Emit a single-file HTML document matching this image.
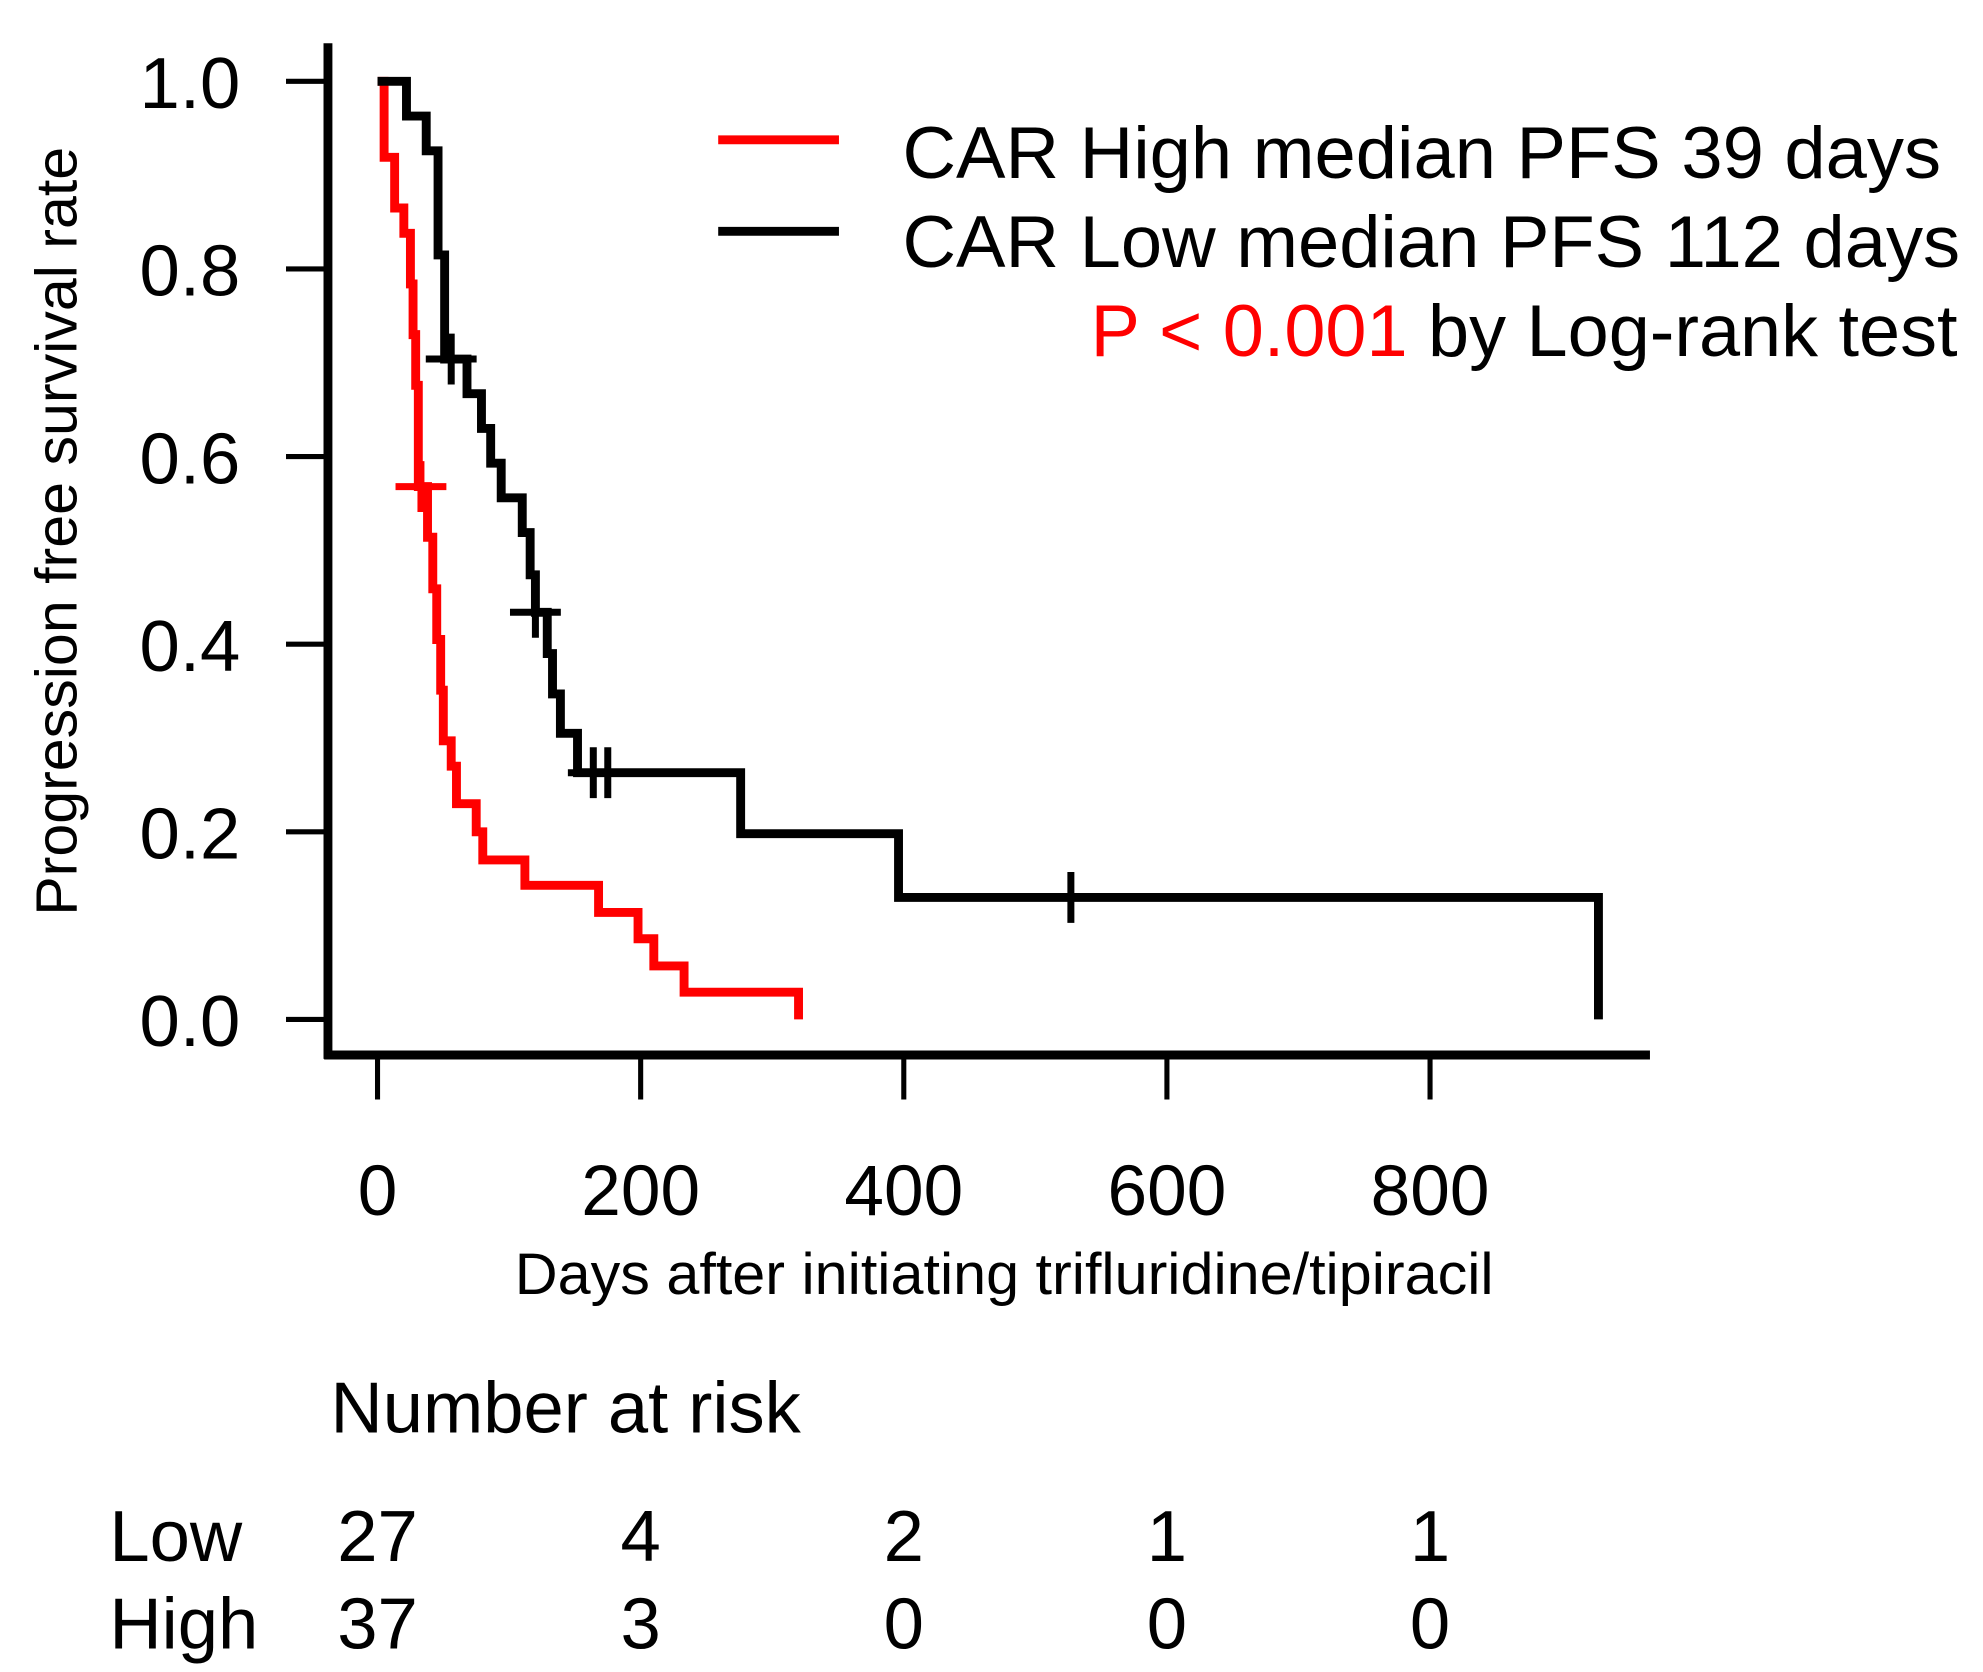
<!DOCTYPE html>
<html><head><meta charset="utf-8"><style>
html,body{margin:0;padding:0;background:#fff;}
svg{display:block;font-family:"Liberation Sans",Arial,sans-serif;}
</style></head><body>
<svg id="chart" width="1983" height="1672" viewBox="0 0 1560 1315.4" preserveAspectRatio="none" xmlns="http://www.w3.org/2000/svg">
<g id="axes"></g>
<g id="series"></g>
<g>
<line x1="565" y1="110" x2="660" y2="110" stroke="#ff0000" stroke-width="7"/>
<line x1="565" y1="182" x2="660" y2="182" stroke="#000" stroke-width="7"/>
<text x="710" y="140" font-size="58" textLength="817" lengthAdjust="spacingAndGlyphs">CAR High median PFS 39 days</text>
<text x="710" y="210" font-size="58" textLength="832" lengthAdjust="spacingAndGlyphs">CAR Low median PFS 112 days</text>
<text x="858" y="280" font-size="58" textLength="682" lengthAdjust="spacingAndGlyphs"><tspan fill="#ff0000">P &lt; 0.001</tspan> by Log-rank test</text>
</g>
<text transform="translate(60,418) rotate(-90)" font-size="46" text-anchor="middle" textLength="605" lengthAdjust="spacingAndGlyphs">Progression free survival rate</text>
<text x="790" y="1018" font-size="46" text-anchor="middle" textLength="770" lengthAdjust="spacingAndGlyphs">Days after initiating trifluridine/tipiracil</text>
<text x="260" y="1127" font-size="57" textLength="370" lengthAdjust="spacingAndGlyphs">Number at risk</text>
<text x="86" y="1228" font-size="57">Low</text>
<text x="86" y="1297" font-size="57">High</text>
<g id="risk"></g>
</svg>
<script>
const xTicks = [0, 200, 400, 600, 800];
const yTicks = [0.0, 0.2, 0.4, 0.6, 0.8, 1.0];
const highTimes = [0,5,13,20,25,27,29,31,38,42,45,48,50,56,60,75,80,112,168,198,210,233,320];
const highSurv = [1.0,0.919,0.865,0.838,0.784,0.73,0.676,0.568,0.514,0.459,0.405,0.351,0.297,0.27,0.23,0.2,0.17,0.143,0.114,0.086,0.057,0.029,0.0];
const highCensor = [33];
const lowTimes = [0,22,37,46,51,68,79,86,94,110,116,120,129,133,139,152,276,396,928];
const lowSurv = [1.0,0.963,0.926,0.815,0.704,0.667,0.63,0.593,0.556,0.519,0.474,0.434,0.39,0.347,0.305,0.263,0.198,0.13,0.0];
const lowCensor = [56, 120, 164, 175, 527];
const riskLow = [27, 4, 2, 1, 1];
const riskHigh = [37, 3, 0, 0, 0];

const NS = "http://www.w3.org/2000/svg";
const X = t => 297 + (1125 - 297) * t / 800;
const Y = s => 802 - (802 - 64) * s;
function mk(tag, attrs, parent, text) {
  const e = document.createElementNS(NS, tag);
  for (const k in attrs) e.setAttribute(k, attrs[k]);
  if (text !== undefined) e.textContent = text;
  parent.appendChild(e);
  return e;
}
const axes = document.getElementById('axes');
let e = mk('line', {x1:258, y1:34, x2:258, y2:833, stroke:'#000', 'stroke-width':7}, axes);


e = mk('line', {x1:255, y1:830, x2:1298, y2:830, stroke:'#000', 'stroke-width':7}, axes);


yTicks.forEach(v => {
  const t = mk('line', {x1:225, y1:Y(v), x2:258, y2:Y(v), stroke:'#000', 'stroke-width':4}, axes);
  
  
  const l = mk('text', {x:189, y:Y(v)+21, 'font-size':57, 'text-anchor':'end'}, axes, v.toFixed(1));
  
  
});
xTicks.forEach(v => {
  const t = mk('line', {x1:X(v), y1:830, x2:X(v), y2:865, stroke:'#000', 'stroke-width':4}, axes);
  
  
  const l = mk('text', {x:X(v), y:956, 'font-size':56, 'text-anchor':'middle'}, axes, String(v));
  
  
});
function survAt(times, surv, t) {
  let s = surv[0];
  for (let i = 0; i < times.length; i++) if (times[i] <= t) s = surv[i];
  return s;
}
const series = document.getElementById('series');
function drawKM(times, surv, cens, color, name) {
  let d = 'M' + X(times[0]) + ',' + Y(surv[0]);
  for (let i = 1; i < times.length; i++) {
    d += ' H' + X(times[i]) + ' V' + Y(surv[i]);
  }
  const p = mk('path', {d:d, fill:'none', stroke:color, 'stroke-width':7, 'stroke-linejoin':'miter'}, series);
  
  
  cens.forEach(c => {
    const cx = X(c), cy = Y(survAt(times, surv, c));
    const m = mk('path', {d:'M'+(cx-20)+','+cy+' H'+(cx+20)+' M'+cx+','+(cy-20)+' V'+(cy+20), stroke:color, 'stroke-width':5.5, fill:'none'}, series);
    
    
  });
}
drawKM(highTimes, highSurv, highCensor, '#ff0000', 'car-high');
drawKM(lowTimes, lowSurv, lowCensor, '#000000', 'car-low');
const risk = document.getElementById('risk');
xTicks.forEach((v, i) => {
  const a = mk('text', {x:X(v), y:1228, 'font-size':57, 'text-anchor':'middle'}, risk, String(riskLow[i]));
  
  
  const b = mk('text', {x:X(v), y:1297, 'font-size':57, 'text-anchor':'middle'}, risk, String(riskHigh[i]));
  
  
});
</script>
</body></html>
